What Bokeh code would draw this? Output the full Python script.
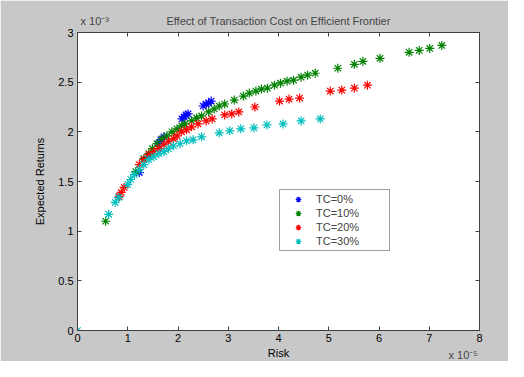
from bokeh.plotting import figure
from bokeh.models import Range1d, LinearAxis, FixedTicker, Label, Legend, LegendItem, CustomJSTickFormatter
from bokeh.embed import file_html
from bokeh.resources import INLINE

# Risk in units of 1e-5, Expected returns in units of 1e-3
tc0_risk = [1.23, 1.42, 1.60, 1.66, 1.72, 2.08, 2.12, 2.16, 2.20, 2.50, 2.56, 2.61, 2.66]
tc0_ret = [1.59, 1.75, 1.88, 1.92, 1.95, 2.13, 2.15, 2.17, 2.18, 2.26, 2.28, 2.29, 2.31]

tc10_risk = [0.56, 1.16, 1.32, 1.42, 1.49, 1.58, 1.68, 1.78, 1.88, 1.98, 2.07, 2.14, 2.27, 2.37,
             2.47, 2.61, 2.72, 2.82, 2.93, 3.12, 3.30, 3.42, 3.55, 3.66, 3.78, 3.92, 4.04, 4.17,
             4.30, 4.45, 4.58, 4.73, 5.18, 5.51, 5.68, 6.02, 6.60, 6.80, 7.01, 7.25]
tc10_ret = [1.10, 1.60, 1.73, 1.78, 1.83, 1.88, 1.93, 1.96, 2.00, 2.03, 2.06, 2.08, 2.11, 2.14,
            2.16, 2.20, 2.23, 2.26, 2.28, 2.32, 2.36, 2.39, 2.41, 2.43, 2.44, 2.47, 2.49, 2.51,
            2.52, 2.55, 2.57, 2.59, 2.64, 2.68, 2.71, 2.74, 2.80, 2.82, 2.84, 2.87]

tc20_risk = [0.83, 0.87, 0.93, 1.23, 1.32, 1.42, 1.52, 1.62, 1.72, 1.81, 1.91, 1.98, 2.07, 2.17,
             2.27, 2.40, 2.56, 2.68, 2.93, 3.07, 3.21, 3.53, 4.02, 4.21, 4.42, 5.03, 5.26, 5.51, 5.77]
tc20_ret = [1.35, 1.39, 1.44, 1.67, 1.72, 1.77, 1.80, 1.83, 1.87, 1.90, 1.93, 1.96, 2.00, 2.02,
            2.05, 2.08, 2.11, 2.13, 2.17, 2.18, 2.20, 2.25, 2.31, 2.33, 2.34, 2.41, 2.42, 2.44, 2.47]

tc30_risk = [0.0, 0.62, 0.75, 0.82, 1.00, 1.06, 1.13, 1.23, 1.32, 1.42, 1.52, 1.62, 1.72, 1.81,
             1.91, 2.04, 2.17, 2.30, 2.47, 2.82, 3.03, 3.25, 3.51, 3.77, 4.09, 4.45, 4.83]
tc30_ret = [0.0, 1.17, 1.29, 1.34, 1.47, 1.52, 1.57, 1.62, 1.67, 1.72, 1.75, 1.78, 1.80, 1.83,
            1.86, 1.88, 1.91, 1.92, 1.95, 1.99, 2.01, 2.03, 2.04, 2.07, 2.08, 2.11, 2.13]

series_names = ["TC=0%", "TC=10%", "TC=20%", "TC=30%"]
series_colors = ["#0000ff", "#008000", "#ff0000", "#00bfbf"]

x_ticks = [0, 1, 2, 3, 4, 5, 6, 7, 8]
x_tick_labels = ["0", "1", "2", "3", "4", "5", "6", "7", "8"]
y_ticks = [0, 0.5, 1, 1.5, 2, 2.5, 3]
y_tick_labels = ["0", "0.5", "1", "1.5", "2", "2.5", "3"]

FONT = "Liberation Sans"
GRAY = "#c8c8c8"
AX = "#404040"

p = figure(width=508, height=361, output_backend="svg", toolbar_location=None,
           x_range=Range1d(0, 8), y_range=Range1d(0, 3),
           min_border_left=77, min_border_right=22, min_border_top=32, min_border_bottom=31,
           background_fill_color="white", border_fill_color=GRAY,
           outline_line_color=AX,
           title="Effect of Transaction Cost on Efficient Frontier")
p.title.text_font = FONT
p.title.text_font_size = "11px"
p.title.text_font_style = "normal"
p.title.align = "center"
p.title.offset = 0
p.title.standoff = 11
p.grid.visible = False

for ax, ticks, labels in ((p.xaxis[0], x_ticks, x_tick_labels), (p.yaxis[0], y_ticks, y_tick_labels)):
    ax.ticker = FixedTicker(ticks=ticks)
    ax.major_label_overrides = {t: l for t, l in zip(ticks, labels)}
    ax.minor_tick_line_color = None
    ax.major_tick_in = 4
    ax.major_tick_out = 0
    ax.axis_line_color = AX
    ax.major_tick_line_color = AX
    ax.major_label_text_font = FONT
    ax.major_label_text_font_size = "11px"
    ax.major_label_text_color = "black"
    ax.axis_label_text_font = FONT
    ax.axis_label_text_font_size = "11px"
    ax.axis_label_text_font_style = "normal"
    ax.axis_label_text_color = "black"

p.xaxis[0].axis_label = "Risk"
p.xaxis[0].major_label_standoff = 3
p.xaxis[0].axis_label_standoff = 2
p.yaxis[0].axis_label = "Expected Returns"
p.yaxis[0].major_label_standoff = 4
p.yaxis[0].axis_label_standoff = 9

blank = CustomJSTickFormatter(code="return '';")
top_ax = LinearAxis(ticker=FixedTicker(ticks=x_ticks), formatter=blank, major_tick_in=4, major_tick_out=0,
                    minor_tick_line_color=None, axis_line_color=AX, major_tick_line_color=AX,
                    major_label_standoff=0)
right_ax = LinearAxis(ticker=FixedTicker(ticks=y_ticks), formatter=blank, major_tick_in=4, major_tick_out=0,
                      minor_tick_line_color=None, axis_line_color=AX, major_tick_line_color=AX,
                      major_label_standoff=0)
p.add_layout(top_ax, "above")
p.add_layout(right_ax, "right")

renderers = []
for xs, ys, c in ((tc0_risk, tc0_ret, series_colors[0]), (tc10_risk, tc10_ret, series_colors[1]),
                  (tc20_risk, tc20_ret, series_colors[2]), (tc30_risk, tc30_ret, series_colors[3])):
    r = p.scatter(xs, ys, marker="asterisk", size=9, line_color=c, line_width=1.2)
    renderers.append(r)

legend = Legend(items=[LegendItem(label=n, renderers=[r]) for n, r in zip(series_names, renderers)],
                location=(202, 79), padding=2, spacing=0, margin=0,
                glyph_width=32, glyph_height=14, label_height=14, label_width=71, label_standoff=2,
                label_text_font=FONT, label_text_font_size="11px",
                border_line_color=AX, border_line_width=1, background_fill_color="white",
                background_fill_alpha=1.0)
p.add_layout(legend, "center")

# multiplier labels placed in side panels (so they are not clipped to the frame)
p.add_layout(Label(x=77, y=304, x_units="screen", y_units="screen", text="x 10\u207b\u00b3", text_font=FONT,
                   text_font_size="11px", text_baseline="bottom"), "left")
p.add_layout(Label(x=-31, y=-30, x_units="screen", y_units="screen", text="x 10\u207b\u2075", text_font=FONT,
                   text_font_size="11px", text_baseline="bottom"), "right")

open("out.html", "w").write(file_html(p, INLINE))
